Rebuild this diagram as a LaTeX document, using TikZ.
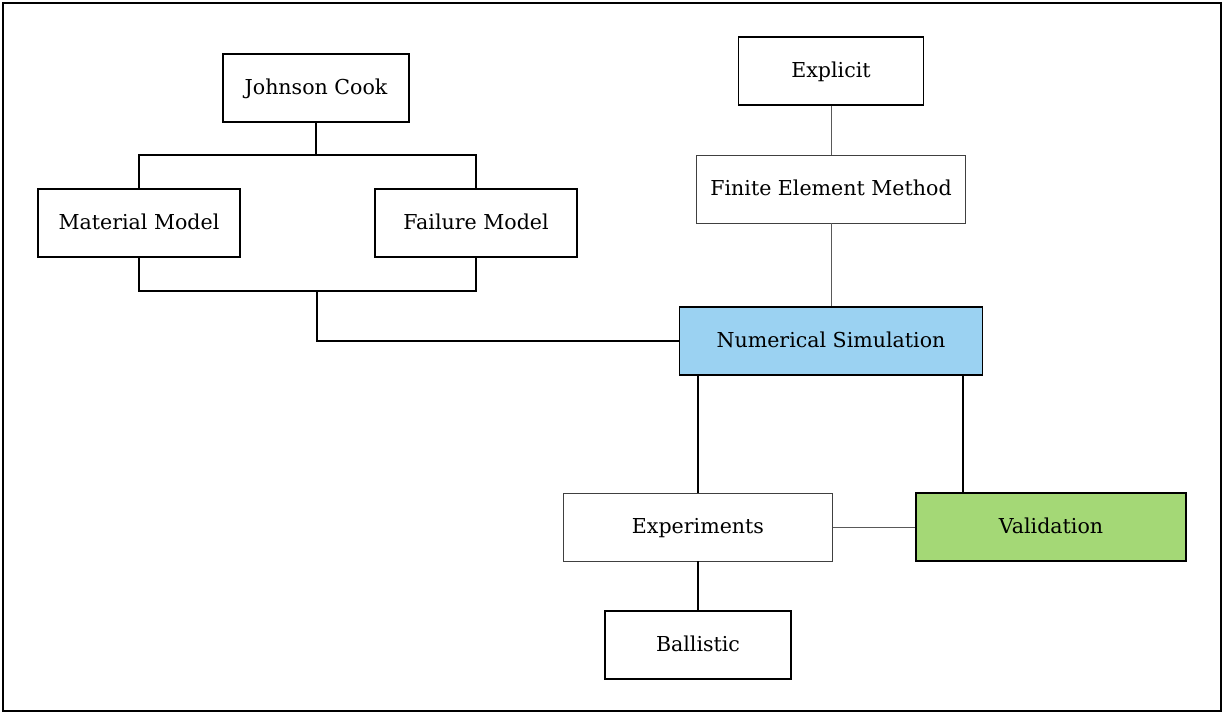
\documentclass[tikz,border=0pt]{standalone}
\usepackage{fontspec}
\setmainfont{DejaVu Serif}
\usepackage{xcolor}
\definecolor{simblue}{RGB}{155,210,242}
\definecolor{valgreen}{RGB}{164,216,118}

\begin{document}
\begin{tikzpicture}[x=0.02cm,y=-0.02cm,
  box/.style={draw, line width=0.7pt, minimum height=1.36cm, inner sep=0pt, text height=1.6ex, text depth=0.2ex, font=\fontsize{11.7}{13}\selectfont},
  thin link/.style={draw=black!65, line width=0.55pt}]
\useasboundingbox (0,0) rectangle (1225,714);
\draw [line width=1.1pt] (3,3) rectangle (1221,711);

\node [box, minimum width=3.72cm] (jc) at (316,88) {Johnson Cook};
\node [box, minimum width=4.04cm] (mm) at (139,223) {Material Model};
\node [box, minimum width=4.04cm] (fm) at (476,223) {Failure Model};

\node [box, minimum width=3.7cm] (expl) at (831,71) {Explicit};
\node [box, draw=black!75, line width=0.55pt, minimum width=5.4cm] (fem) at (831,189) {Finite Element Method};
\node [box, fill=simblue, minimum width=6.06cm] (ns) at (831,341) {Numerical Simulation};

\node [box, draw=black!75, line width=0.55pt, minimum width=5.4cm] (ex) at (698,527) {Experiments};
\node [box, fill=valgreen, minimum width=5.4cm] (va) at (1051,527) {Validation};
\node [box, minimum width=3.72cm] (ba) at (698,645) {Ballistic};

\coordinate (top) at (316,155);
\coordinate (bot) at (317,291);

\draw [line width=0.7pt] (jc.south) -- (top);
\draw [line width=0.7pt] (mm.north) |- (top) -| (fm.north);
\draw [line width=0.7pt] (mm.south) |- (bot) -| (fm.south);
\draw [line width=0.7pt] (bot) |- (ns.west);

\draw [thin link] (expl.south) -- (fem.north);
\draw [thin link] (fem.south) -- (ns.north);

\draw [line width=0.7pt] (ns.south -| ex.north) -- (ex.north);
\draw [line width=0.7pt] ([xshift=-0.4cm]ns.south east) -- ([xshift=-0.4cm]ns.south east |- va.north);
\draw [thin link] (ex.east) -- (va.west);
\draw [line width=0.7pt] (ex.south) -- (ba.north);

\end{tikzpicture}
\end{document}
